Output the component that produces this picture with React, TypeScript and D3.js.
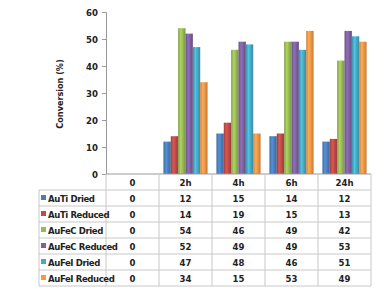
import * as d3 from "d3";
import { useEffect, useRef } from "react";

const categories = ["0", "2h", "4h", "6h", "24h"];
const seriesNames = [
  "AuTi Dried",
  "AuTi Reduced",
  "AuFeC Dried",
  "AuFeC Reduced",
  "AuFeI Dried",
  "AuFeI Reduced",
];
const auTiDried = [0, 12, 15, 14, 12];
const auTiReduced = [0, 14, 19, 15, 13];
const auFeCDried = [0, 54, 46, 49, 42];
const auFeCReduced = [0, 52, 49, 49, 53];
const auFeIDried = [0, 47, 48, 46, 51];
const auFeIReduced = [0, 34, 15, 53, 49];
const yTicks = [0, 10, 20, 30, 40, 50, 60];

const seriesValues = [auTiDried, auTiReduced, auFeCDried, auFeCReduced, auFeIDried, auFeIReduced];
const colors = ["#4a7ebb", "#be4b48", "#98b954", "#7d60a0", "#46aac5", "#f79646"];

const dims = {
  width: 386,
  height: 298,
  left: 106,
  right: 371,
  top: 12,
  bottom: 174,
  labelLeft: 39,
  rowH: 16,
};

export default function App() {
  const ref = useRef<SVGSVGElement>(null);

  useEffect(() => {
    const { left, right, top, bottom, labelLeft, rowH } = dims;
    const svg = d3.select(ref.current);
    svg.selectAll("*").remove();
    const font = "'DejaVu Sans Condensed', 'Liberation Sans Narrow', 'Liberation Sans', Arial, sans-serif";

    const x = d3.scaleBand().domain(categories).range([left, right]);
    const xi = d3
      .scaleBand()
      .domain(seriesNames)
      .range([0, x.bandwidth()])
      .paddingOuter(0.6)
      .paddingInner(0);
    const y = d3.scaleLinear().domain([0, 60]).range([bottom, top]);

    // gradients for the shaded bars
    const defs = svg.append("defs");
    colors.forEach((c, i) => {
      const g = defs
        .append("linearGradient")
        .attr("id", "grad" + i)
        .attr("x1", 0)
        .attr("x2", 1)
        .attr("y1", 0)
        .attr("y2", 0);
      g.append("stop").attr("offset", "0%").attr("stop-color", d3.color(c)!.darker(0.5).toString());
      g.append("stop").attr("offset", "35%").attr("stop-color", d3.color(c)!.brighter(0.4).toString());
      g.append("stop").attr("offset", "100%").attr("stop-color", d3.color(c)!.darker(0.6).toString());
    });

    // y axis
    const yAxis = svg
      .append("g")
      .attr("transform", `translate(${left},0)`)
      .call(d3.axisLeft(y).tickValues(yTicks).tickSize(4).tickPadding(4));
    yAxis.select(".domain").attr("stroke", "#999");
    yAxis.selectAll(".tick line").attr("stroke", "#999");
    yAxis
      .selectAll("text")
      .attr("font-family", font)
      .attr("font-size", 9.5)
      .attr("font-weight", "bold")
      .attr("fill", "#222");

    svg
      .append("text")
      .attr("transform", `translate(63,${(top + bottom) / 2 + 1}) rotate(-90)`)
      .attr("text-anchor", "middle")
      .attr("font-family", font)
      .attr("font-size", 9)
      .attr("font-weight", "bold")
      .attr("fill", "#222")
      .text("Conversion (%)");

    // bars
    seriesValues.forEach((vals, si) => {
      svg
        .append("g")
        .selectAll("rect")
        .data(vals)
        .enter()
        .append("rect")
        .attr("x", (d, i) => x(categories[i])! + xi(seriesNames[si])!)
        .attr("y", (d) => y(d))
        .attr("width", xi.bandwidth())
        .attr("height", (d) => bottom - y(d))
        .attr("fill", `url(#grad${si})`);
    });

    // data table
    const tableBottom = bottom + rowH * (seriesNames.length + 1);
    const grid = svg.append("g").attr("stroke", "#c8c8c8").attr("stroke-width", 1);
    grid.append("line").attr("x1", left).attr("x2", right).attr("y1", bottom).attr("y2", bottom).attr("stroke", "#999");
    d3.range(1, seriesNames.length + 2).forEach((r) => {
      grid
        .append("line")
        .attr("x1", labelLeft)
        .attr("x2", right)
        .attr("y1", bottom + r * rowH)
        .attr("y2", bottom + r * rowH);
    });
    categories.forEach((c) => {
      grid
        .append("line")
        .attr("x1", x(c)!)
        .attr("x2", x(c)!)
        .attr("y1", bottom)
        .attr("y2", tableBottom);
    });
    grid.append("line").attr("x1", right).attr("x2", right).attr("y1", bottom).attr("y2", tableBottom);
    grid
      .append("line")
      .attr("x1", labelLeft)
      .attr("x2", labelLeft)
      .attr("y1", bottom + rowH)
      .attr("y2", tableBottom);

    const txt = svg
      .append("g")
      .attr("font-family", font)
      .attr("font-size", 9.5)
      .attr("font-weight", "bold")
      .attr("fill", "#222");

    categories.forEach((c) => {
      txt
        .append("text")
        .attr("x", x(c)! + x.bandwidth() / 2)
        .attr("y", bottom + rowH / 2 + 3.5)
        .attr("text-anchor", "middle")
        .text(c);
    });

    seriesNames.forEach((name, si) => {
      const cy = bottom + rowH * (si + 1) + rowH / 2;
      svg
        .append("rect")
        .attr("x", labelLeft + 2)
        .attr("y", cy - 3)
        .attr("width", 5)
        .attr("height", 5)
        .attr("fill", colors[si]);
      txt
        .append("text")
        .attr("x", labelLeft + 9)
        .attr("y", cy + 3.5)
        .attr("letter-spacing", -0.4)
        .text(name);
      seriesValues[si].forEach((v, i) => {
        txt
          .append("text")
          .attr("x", x(categories[i])! + x.bandwidth() / 2)
          .attr("y", cy + 3.5)
          .attr("text-anchor", "middle")
          .text(v);
      });
    });
  }, []);

  return (
    <svg
      ref={ref}
      width={dims.width}
      height={dims.height}
      style={{ position: "absolute", left: 0, top: 0, background: "#fff" }}
    ></svg>
  );
}
